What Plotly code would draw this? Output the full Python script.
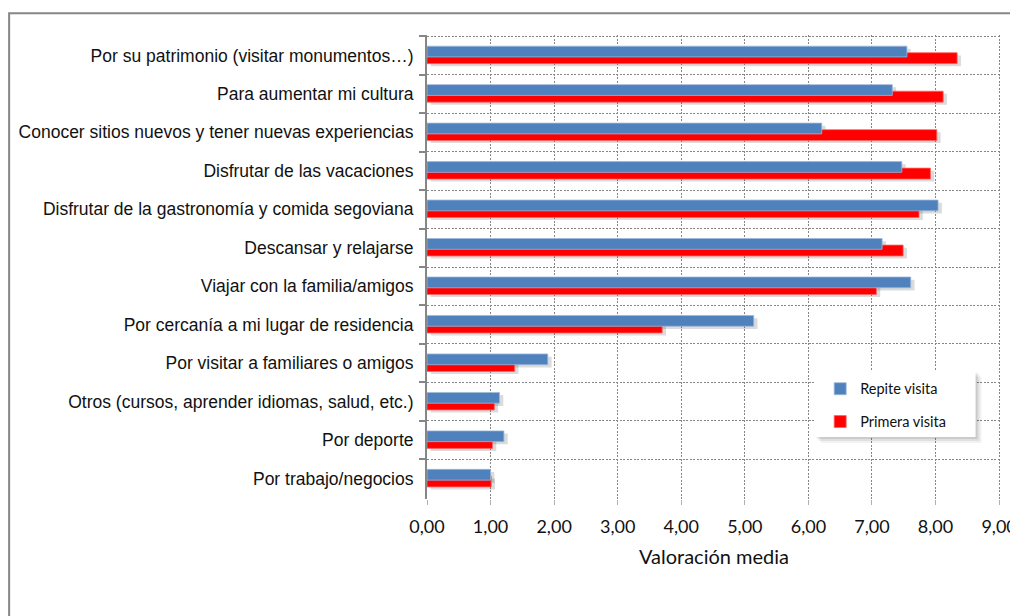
import plotly.graph_objects as go

# motivos de la visita (de arriba a abajo)
motivos = [
    "Por su patrimonio (visitar monumentos…)",
    "Para aumentar mi cultura",
    "Conocer sitios nuevos y tener nuevas experiencias",
    "Disfrutar de las vacaciones",
    "Disfrutar de la gastronomía y comida segoviana",
    "Descansar y relajarse",
    "Viajar con la familia/amigos",
    "Por cercanía a mi lugar de residencia",
    "Por visitar a familiares o amigos",
    "Otros (cursos, aprender idiomas, salud, etc.)",
    "Por deporte",
    "Por trabajo/negocios",
]

repite_visita = [7.55, 7.32, 6.21, 7.47, 8.04, 7.16, 7.61, 5.14, 1.90, 1.14, 1.21, 1.00]
primera_visita = [8.34, 8.12, 8.02, 7.92, 7.74, 7.49, 7.07, 3.70, 1.38, 1.06, 1.03, 1.01]

AZUL = "#4F81BD"
ROJO = "#FF0000"

fig = go.Figure()

# sombras de las barras
for valores, off in [(repite_visita, -0.24), (primera_visita, -0.07)]:
    fig.add_trace(go.Bar(
        y=motivos, x=valores, base=0.06, orientation="h",
        offset=off + 0.07, width=0.28,
        marker=dict(color="rgba(0,0,0,0.14)", line=dict(width=0)),
        showlegend=False, hoverinfo="skip",
    ))

fig.add_trace(go.Bar(
    y=motivos, x=primera_visita, orientation="h", name="Primera visita",
    offset=-0.07, width=0.285, legendrank=2, legendgroup="b",
    marker=dict(color=ROJO, line=dict(color="#FF6666", width=0.8)),
))
fig.add_trace(go.Bar(
    y=motivos, x=repite_visita, orientation="h", name="Repite visita",
    offset=-0.24, width=0.28, legendrank=1, legendgroup="a",
    marker=dict(color=AZUL, line=dict(color="#9DB9DC", width=0.8)),
))

grid_col = "#878787"

# rangos un poco más anchos para que se dibujen las líneas de rejilla de los bordes
fig.update_xaxes(
    range=[0, 9.03], dtick=1, tick0=0, tickformat=".2f", automargin=False,
    showgrid=True, gridcolor=grid_col, griddash="2px,1.5px", gridwidth=1.4,
    zeroline=False, showline=False,
    ticks="outside", ticklen=5, tickcolor="#b0b0b0",
    tickfont=dict(family="Lato", size=18, color="#111111"),
    ticklabelstandoff=6, ticklabeloverflow="allow",
    title=dict(text="Valoración media", standoff=14,
               font=dict(family="Lato", size=20, color="#111111")),
)
fig.update_yaxes(
    range=[11.53, -0.53], type="category", tickson="boundaries", automargin=False,
    showgrid=True, gridcolor=grid_col, griddash="2px,1.5px", gridwidth=1.4,
    showline=True, linecolor="#868686", linewidth=2,
    ticks="outside", ticklen=6, tickcolor="#868686", tickwidth=1.5,
    tickfont=dict(family="Liberation Sans", size=17.5, color="#111111"),
    ticklabelstandoff=8,
)

# marco exterior y caja de la leyenda con sombra
shapes = [
    dict(type="rect", xref="paper", yref="paper", x0=-0.728, x1=1.2, y0=-0.5, y1=1.047,
         line=dict(color="#868686", width=2), fillcolor="rgba(0,0,0,0)", layer="above"),
]
for d, a in [(6, 0.05), (4, 0.07), (2, 0.09)]:
    shapes.append(dict(type="rect", xref="x", yref="paper",
                       x0=6.10 + d / 63.75, x1=8.63 + d / 63.75,
                       y0=0.1336 - d / 464, y1=0.2765 - d / 464,
                       line=dict(width=0), fillcolor=f"rgba(0,0,0,{a})", layer="above"))
shapes.append(dict(type="rect", xref="x", yref="paper", x0=6.10, x1=8.63, y0=0.1336, y1=0.2765,
                   line=dict(width=0), fillcolor="white", layer="above"))

# la página añade 8 px de margen, así que la figura es 8 px más pequeña
fig.update_layout(
    width=1010, height=608, autosize=False,
    margin=dict(l=419, r=17, t=27, b=117),
    separators=",.",
    barmode="overlay",
    plot_bgcolor="white", paper_bgcolor="white",
    shapes=shapes,
    legend=dict(x=0.685, y=0.272, xanchor="left", yanchor="top",
                bgcolor="rgba(0,0,0,0)", borderwidth=0,
                traceorder="grouped", tracegroupgap=11,
                font=dict(family="Lato", size=14.5, color="#111111")),
)

fig.write_html("out.html")
